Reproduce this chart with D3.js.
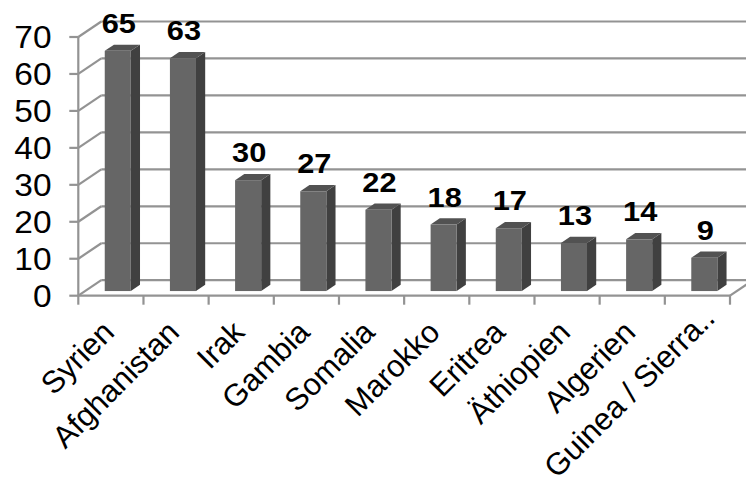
<!DOCTYPE html>
<html>
<head>
<meta charset="utf-8">
<script src="https://cdn.jsdelivr.net/npm/d3@7"></script>
<style>
  html, body { margin: 0; padding: 0; background: #fff; }
  svg { display: block; font-family: "Liberation Sans", Arial, sans-serif; }
</style>
</head>
<body>
<svg id="chart" width="746" height="487"></svg>
<script>
const categories = ["Syrien", "Afghanistan", "Irak", "Gambia", "Somalia", "Marokko", "Eritrea", "Äthiopien", "Algerien", "Guinea / Sierra.."];
const values = [65, 63, 30, 27, 22, 18, 17, 13, 14, 9];
const yTicks = [0, 10, 20, 30, 40, 50, 60, 70];

const W = 746, H = 487;
const svg = d3.select("#chart");

// front plane scales
const x = d3.scaleBand().domain(categories).range([78.3, 730]).paddingInner(0).paddingOuter(0);
const y = d3.scaleLinear().domain([0, 70]).range([295.7, 37]);
// depth vector (front -> back)
const DX = 23, DY = 15.5;
const proj = (px, py, d) => [px + d * DX, py - d * DY];

const gridColor = "#939393";
const lineW = 2.2;

const g = svg.append("g");
yTicks.forEach(t => {
  const [bx, by] = proj(x.range()[0], y(t), 1);
  g.append("line").attr("x1", bx).attr("y1", by).attr("x2", W + 20).attr("y2", by)
    .attr("stroke", gridColor).attr("stroke-width", lineW);
  g.append("line").attr("x1", x.range()[0]).attr("y1", y(t)).attr("x2", bx).attr("y2", by)
    .attr("stroke", gridColor).attr("stroke-width", lineW);
});
g.append("line").attr("x1", x.range()[0]).attr("y1", y(0)).attr("x2", x.range()[0]).attr("y2", y(70))
  .attr("stroke", gridColor).attr("stroke-width", lineW);
g.append("line").attr("x1", x.range()[0]).attr("y1", y(0)).attr("x2", x.range()[1]).attr("y2", y(0))
  .attr("stroke", gridColor).attr("stroke-width", lineW);
{
  const [rx, ry] = proj(x.range()[1], y(0), 1);
  g.append("line").attr("x1", x.range()[1]).attr("y1", y(0)).attr("x2", rx).attr("y2", ry)
    .attr("stroke", gridColor).attr("stroke-width", lineW);
}

const xt = [...categories.map(c => x(c)), x.range()[1]];
xt.forEach(px => {
  g.append("line").attr("x1", px).attr("y1", y(0)).attr("x2", px).attr("y2", y(0) + 9)
    .attr("stroke", gridColor).attr("stroke-width", lineW);
});
yTicks.forEach(t => {
  g.append("line").attr("x1", x.range()[0] - 9).attr("y1", y(t)).attr("x2", x.range()[0]).attr("y2", y(t))
    .attr("stroke", gridColor).attr("stroke-width", lineW);
});

// y labels
svg.append("g").selectAll("text").data(yTicks).join("text")
  .attr("transform", d => `translate(51.5,${y(d)}) scale(1.08,1)`)
  .attr("dy", "0.36em")
  .attr("text-anchor", "end").attr("font-size", 31).attr("fill", "#000")
  .text(d => d);

// bars
const bw = x.bandwidth() * 0.4;
const d0 = 0.3, d1 = 0.7;
const bars = svg.append("g");
categories.forEach((c, i) => {
  const v = values[i];
  const fx0 = x(c) + (x.bandwidth() - bw) / 2;
  const fx1 = fx0 + bw;
  const [ax0, ay0] = proj(fx0, y(0), d0);
  const [ax1] = proj(fx1, y(0), d0);
  const [, aTop] = proj(fx0, y(v), d0);
  const sx = (d1 - d0) * DX, sy = (d1 - d0) * DY;
  bars.append("path").attr("d",
    `M${ax1},${ay0} L${ax1 + sx},${ay0 - sy} L${ax1 + sx},${aTop - sy} L${ax1},${aTop} Z`)
    .attr("fill", "#404040");
  bars.append("path").attr("d",
    `M${ax0},${aTop} L${ax0 + sx},${aTop - sy} L${ax1 + sx},${aTop - sy} L${ax1},${aTop} Z`)
    .attr("fill", "#525252");
  bars.append("rect").attr("x", ax0).attr("y", aTop).attr("width", bw).attr("height", ay0 - aTop)
    .attr("fill", "#666666");
  bars.append("text")
    .attr("transform", `translate(${(ax0 + ax1) / 2 + 1},${aTop - 18}) scale(1.1,1)`)
    .attr("text-anchor", "middle").attr("font-size", 28).attr("font-weight", "bold")
    .attr("fill", "#000").text(v);
});

// x labels (the truncated last label sits further along its baseline, as in the reference)
svg.append("g").selectAll("text").data(categories).join("text")
  .attr("text-anchor", "end").attr("font-size", 31).attr("fill", "#000")
  .attr("dx", (d, i) => i === categories.length - 1 ? 20 : 0)
  .attr("transform", d => `translate(${x(d) + x.bandwidth() / 2 + 5},${334}) rotate(-45)`)
  .text(d => d);
</script>
</body>
</html>
